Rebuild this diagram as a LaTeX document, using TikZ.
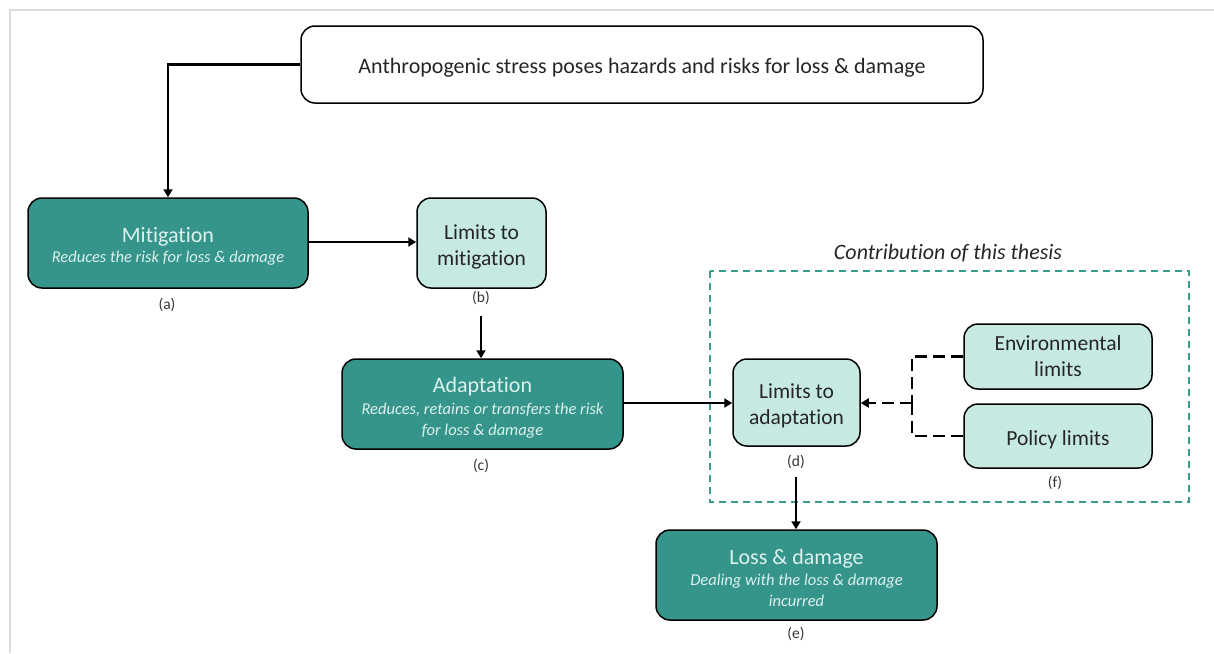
\documentclass[tikz,border=0pt]{standalone}
\usepackage{fontspec}
\setmainfont{Carlito}[Ligatures={NoCommon}]
\usetikzlibrary{arrows.meta}
\definecolor{tealdark}{HTML}{35958A}
\definecolor{teallight}{HTML}{C6E9E2}
\definecolor{tealtext}{HTML}{DDF1EE}
\definecolor{frameline}{HTML}{DCDCDC}
\definecolor{dashteal}{HTML}{3E9C8F}
% tall strut on a first line: lowers the text block a little inside its box
\newcommand{\lowr}{\rule{0pt}{\dimexpr 0.73em+6pt\relax}}
\begin{document}
\begin{tikzpicture}[x=1pt,y=-1pt,
  box/.style={draw=black,line width=1.5pt,rounded corners=14pt,inner sep=0pt,align=center},
  darkbox/.style={box,fill=tealdark,text=tealtext,font=\fontsize{16.5}{21}\selectfont\itshape},
  lightbox/.style={box,fill=teallight,text=black!85,font=\fontsize{21.5}{26}\selectfont},
  tag/.style={font=\fontsize{15.5}{17}\selectfont,text=black!80,inner sep=0pt},
  flow/.style={line width=2.3pt,-{Triangle[length=8pt,width=9pt]}},
  feed/.style={line width=2.6pt,dash pattern=on 12pt off 6pt}]
\useasboundingbox (0,0) rectangle (1214,653);
% frame lines
\draw[frameline,line width=2pt] (10,653) -- (10,10) -- (1214,10);

% boxes
\node[box,fill=white,minimum width=682pt,minimum height=77pt,font=\fontsize{22}{24}\selectfont,text=black!85]
  (top) at (642,64.5) {\lowr Anthropogenic stress poses hazards and risks for loss \& damage};
\node[darkbox,minimum width=280pt,minimum height=90pt] (mit) at (168,243)
  {{\upshape\fontsize{22}{24}\selectfont\lowr Mitigation}\\[-1pt]Reduces the risk for loss \& damage};
\node[lightbox,minimum width=129pt,minimum height=90pt] (lmit) at (481.5,243)
  {\lowr Limits to\\mitigation};
\node[darkbox,minimum width=281pt,minimum height=90pt] (adapt) at (482.5,404)
  {{\upshape\fontsize{22}{24}\selectfont\lowr Adaptation}\\[1pt]Reduces, retains or transfers the risk\\for loss \& damage};
\node[lightbox,minimum width=127pt,minimum height=87pt] (ladapt) at (796.5,402.5)
  {\lowr Limits to\\adaptation};
\node[lightbox,minimum width=188pt,minimum height=65pt] (env) at (1058,356.5)
  {Environmental\\limits};
\node[lightbox,minimum width=188pt,minimum height=64pt] (pol) at (1058,436)
  {\lowr Policy limits};
\node[darkbox,minimum width=281pt,minimum height=90pt] (loss) at (796.5,575)
  {{\upshape\fontsize{22}{24}\selectfont\lowr Loss \& damage}\\[0pt]Dealing with the loss \& damage\\incurred};

% thesis contribution frame
\draw[dashteal,line width=1.5pt,dash pattern=on 7pt off 5pt] (710,271) rectangle (1189,502);
\node[font=\fontsize{22}{24}\selectfont\itshape,text=black!85] (contrib) at (948,253) {Contribution of this thesis};

% labels
\node[tag] (la) at (167,305) {(a)};
\node[tag] (lb) at (481,298) {(b)};
\node[tag] (lc) at (481,466) {(c)};
\node[tag] (ld) at (796,462) {(d)};
\node[tag] (le) at (796,634) {(e)};
\node[tag] (lf) at (1055,483) {(f)};

% connectors
\draw[flow] (top.west) -| (mit.north);
\draw[flow] (mit.east |- 0,242) -- (lmit.west |- 0,242);
\coordinate (bstart) at (481,316);
\draw[flow] (bstart) -- (adapt.north -| bstart);
\draw[flow] (adapt.east |- 0,403) -- (ladapt.west |- 0,403);
\coordinate (dstart) at (796,477);
\draw[flow] (dstart) -- (loss.north -| dstart);
\coordinate (join) at (912,403);
\draw[feed] (env.west) -| (join);
\draw[feed] (pol.west) -| (join);
\draw[feed,-{Triangle[length=8pt,width=9pt]}] (join) -- (ladapt.east |- join);
\end{tikzpicture}
\end{document}
